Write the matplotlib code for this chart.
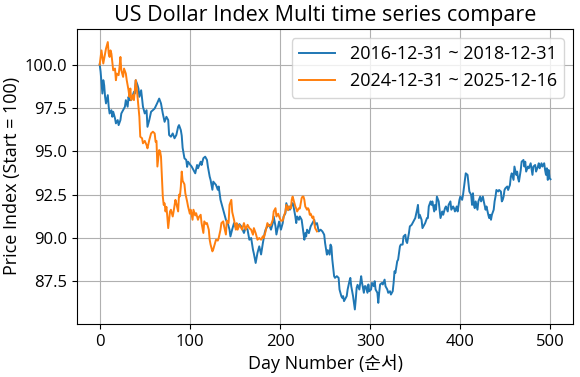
import matplotlib
matplotlib.use("Agg")
import matplotlib.pyplot as plt

plt.rcParams['font.family'] = ['Open Sans', 'Noto Sans CJK KR', 'DejaVu Sans']

# series 1 : 2016-12-31 ~ 2018-12-31 (day number, index value)
blue_day = [0, 1, 3, 4, 5, 6, 7, 9, 10, 11, 13, 14, 15, 17, 18, 20, 21, 23, 24, 26,
            28, 29, 31, 32, 33, 35, 38, 39, 40, 42, 43, 44, 46, 48, 50, 52, 53, 55, 57, 59,
            61, 64, 66, 68, 70, 72, 74, 76, 77, 79, 81, 83, 85, 87, 88, 90, 91, 92, 94, 96,
            97, 98, 100, 102, 104, 106, 108, 109, 112, 113, 115, 117, 119, 120, 122, 123, 125, 126, 129, 131,
            132, 134, 136, 138, 140, 142, 144, 145, 147, 149, 151, 153, 155, 157, 160, 162, 164, 166, 168, 170,
            171, 173, 175, 177, 179, 181, 183, 184, 186, 188, 190, 192, 193, 195, 196, 199, 201, 203, 204, 206,
            207, 209, 210, 211, 213, 214, 215, 216, 217, 218, 219, 221, 222, 224, 225, 227, 228, 229, 230, 232,
            234, 236, 238, 239, 241, 243, 245, 247, 249, 250, 252, 253, 255, 256, 257, 258, 260, 261, 263, 265,
            266, 268, 269, 270, 271, 273, 274, 275, 277, 278, 279, 281, 283, 284, 285, 286, 288, 289, 290, 291,
            293, 294, 295, 297, 298, 299, 301, 302, 304, 305, 306, 308, 309, 310, 311, 313, 314, 316, 317, 319,
            320, 322, 323, 325, 326, 327, 328, 330, 331, 333, 334, 336, 337, 339, 340, 341, 343, 344, 346, 347,
            349, 350, 352, 353, 354, 355, 357, 358, 360, 361, 363, 364, 365, 367, 368, 369, 371, 372, 373, 374,
            376, 377, 378, 380, 381, 383, 384, 386, 387, 389, 390, 392, 393, 394, 396, 397, 399, 400, 402, 403,
            405, 406, 408, 409, 410, 412, 413, 414, 415, 416, 417, 419, 420, 422, 423, 425, 426, 428, 429, 431,
            432, 433, 434, 435, 437, 438, 439, 440, 442, 443, 445, 446, 447, 448, 449, 450, 452, 453, 455, 456,
            457, 459, 460, 462, 463, 464, 465, 467, 468, 470, 471, 472, 473, 475, 476, 478, 480, 481, 483, 484,
            486, 487, 488, 490, 491, 493, 494, 495, 496, 497, 498, 499, 500]
blue_val = [100.0, 99.6, 98.33, 99.1, 98.81, 98.14, 97.76, 98.24, 97.57, 97.18, 97.37, 96.99, 97.28, 96.9, 96.61, 96.8, 96.51, 96.8, 97.18, 97.37,
            97.57, 97.95, 97.57, 98.14, 97.95, 97.95, 98.43, 98.33, 99.1, 98.81, 98.62, 98.14, 98.52, 97.57, 97.18, 97.37, 96.41, 96.8, 97.28, 97.37,
            97.47, 97.8, 98.04, 97.76, 97.18, 96.7, 96.99, 96.8, 95.94, 95.84, 96.03, 95.75, 95.94, 96.41, 96.51, 96.22, 95.9, 95.2, 94.6, 94.5,
            94.1, 94.4, 94.25, 94.12, 93.93, 93.73, 94.21, 94.02, 94.4, 94.21, 94.6, 94.69, 94.5, 94.12, 93.54, 93.35, 92.78, 93.25, 93.06, 92.78,
            92.97, 92.2, 91.82, 91.43, 91.05, 90.86, 90.48, 90.09, 90.5, 90.86, 90.6, 90.57, 90.8, 90.67, 90.29, 90.6, 90.48, 89.9, 90.0, 89.33,
            89.1, 88.56, 89.14, 89.52, 89.05, 89.71, 90.29, 90.48, 90.67, 90.76, 90.48, 90.86, 91.24, 90.67, 90.2, 90.95, 90.48, 90.86, 91.24, 91.43,
            92.01, 91.63, 91.82, 91.63, 91.91, 92.01, 91.82, 91.53, 91.24, 90.86, 91.24, 91.05, 91.24, 91.05, 90.67, 89.9, 90.28, 90.09, 90.48, 90.28,
            90.67, 90.86, 91.05, 90.76, 90.86, 90.38, 90.48, 90.38, 90.19, 89.71, 89.04, 89.3, 89.04, 89.62, 89.5, 88.75, 87.8, 87.7, 87.8, 87.7,
            87.03, 86.65, 86.55, 86.65, 86.36, 86.55, 86.65, 87.03, 87.51, 87.7, 87.22, 86.65, 85.88, 86.45, 87.13, 87.3, 87.03, 87.41, 87.8, 87.41,
            86.84, 87.22, 87.22, 86.84, 87.32, 86.93, 87.03, 87.41, 87.22, 87.51, 87.03, 86.84, 86.26, 86.84, 87.32, 87.41, 87.32, 87.6, 87.22, 87.03,
            86.84, 86.93, 86.74, 86.93, 87.41, 88.08, 87.99, 88.66, 88.75, 89.52, 89.62, 89.62, 90.09, 90.19, 89.81, 89.71, 90.29, 90.67, 90.76, 90.86,
            91.05, 91.15, 91.63, 91.91, 91.15, 91.34, 91.05, 90.57, 90.76, 90.86, 91.15, 91.15, 91.82, 92.11, 91.91, 92.11, 91.53, 91.91, 91.63, 92.39,
            92.11, 91.63, 91.15, 91.53, 91.34, 91.72, 91.82, 91.53, 91.91, 92.11, 91.63, 91.82, 91.72, 91.53, 91.82, 91.53, 92.2, 92.39, 92.2, 92.49,
            93.35, 93.73, 93.64, 93.16, 92.68, 92.49, 91.91, 92.58, 91.91, 91.72, 92.11, 91.63, 92.11, 92.39, 92.11, 92.39, 92.11, 91.63, 91.82, 91.34,
            91.15, 91.34, 91.05, 91.34, 91.63, 92.11, 92.39, 92.77, 92.68, 92.77, 92.68, 92.11, 92.2, 92.39, 92.77, 92.87, 92.97, 92.77, 93.06, 93.54,
            93.73, 93.35, 94.12, 93.64, 93.83, 93.45, 93.25, 93.92, 94.4, 94.5, 94.12, 94.4, 93.83, 94.12, 94.02, 94.31, 93.64, 94.12, 94.21, 93.83,
            94.12, 94.31, 94.02, 94.31, 94.12, 94.31, 93.92, 93.64, 94.02, 93.35, 93.92, 93.45, 93.39]

# series 2 : 2024-12-31 ~ 2025-12-16
orange_day = [0, 2, 3, 4, 6, 7, 9, 10, 11, 12, 13, 15, 17, 18, 19, 21, 22, 23, 24, 26,
              27, 29, 30, 32, 33, 34, 35, 37, 38, 40, 41, 43, 44, 45, 47, 48, 50, 52, 53, 55,
              57, 59, 61, 62, 63, 64, 66, 67, 68, 69, 70, 71, 72, 73, 74, 75, 76, 78, 79, 81,
              82, 84, 85, 87, 88, 89, 90, 91, 92, 94, 95, 97, 98, 100, 101, 103, 104, 106, 107, 109,
              110, 112, 113, 115, 116, 118, 119, 121, 122, 123, 125, 126, 128, 129, 131, 132, 134, 135, 137, 138,
              140, 141, 143, 144, 146, 147, 149, 151, 152, 153, 155, 157, 158, 160, 162, 164, 166, 168, 170, 171,
              173, 175, 177, 179, 181, 182, 184, 186, 188, 190, 192, 193, 195, 196, 198, 199, 201, 203, 204, 206,
              207, 209, 210, 212, 213, 214, 215, 217, 218, 219, 221, 222, 224, 225, 226, 227, 228, 230, 231, 232,
              233, 234, 236, 237, 238, 239, 240, 241]
orange_val = [100.0, 100.82, 100.44, 100.06, 100.63, 100.92, 101.3, 100.63, 100.44, 100.82, 100.63, 99.67, 99.77, 99.1, 99.48, 99.39, 99.86, 100.44, 99.67, 99.29,
              99.77, 99.48, 99.1, 98.52, 98.14, 98.62, 97.95, 98.24, 97.95, 99.1, 98.71, 97.57, 96.99, 95.84, 95.75, 95.46, 95.6, 95.36, 95.17, 95.65,
              96.03, 96.13, 96.03, 95.55, 95.6, 94.12, 95.07, 95.0, 94.69, 93.54, 92.39, 91.91, 92.0, 91.53, 91.8, 91.24, 90.57, 91.53, 91.63, 91.24,
              91.53, 92.2, 92.0, 91.53, 92.5, 92.4, 92.97, 93.83, 93.3, 93.1, 92.58, 92.1, 91.82, 91.4, 91.63, 91.05, 91.63, 91.3, 91.43, 91.05,
              91.2, 91.34, 90.86, 90.29, 90.96, 90.8, 90.86, 90.48, 89.9, 89.62, 89.23, 89.35, 89.71, 89.9, 89.85, 90.0, 90.48, 90.86, 90.96, 90.67,
              90.2, 91.0, 90.86, 91.91, 92.2, 91.5, 91.05, 90.48, 90.86, 90.48, 90.76, 90.57, 90.48, 90.86, 90.48, 90.76, 90.57, 90.48, 90.19, 90.57,
              90.28, 89.9, 90.0, 89.9, 90.1, 90.0, 90.38, 90.86, 90.67, 90.76, 91.05, 91.53, 91.72, 91.24, 91.4, 91.24, 91.0, 91.0, 91.2, 91.53,
              91.91, 91.6, 91.82, 91.7, 92.2, 92.39, 92.2, 91.82, 91.7, 91.53, 91.72, 91.7, 92.3, 92.39, 92.39, 92.2, 91.82, 91.63, 91.72, 91.63,
              91.34, 91.4, 91.15, 91.24, 90.86, 90.57, 90.48, 90.38]

labels = ['2016-12-31 ~ 2018-12-31', '2024-12-31 ~ 2025-12-16']

fig, ax = plt.subplots(figsize=(5.8, 3.77), dpi=100)
fig.subplots_adjust(left=0.133, right=0.988, bottom=0.141, top=0.923)

ax.plot(blue_day, blue_val, color='tab:blue', linewidth=1.4, label=labels[0])
ax.plot(orange_day, orange_val, color='tab:orange', linewidth=1.4, label=labels[1])

ax.set_xlim(-25, 525)
ax.set_ylim(85.05, 102.05)
ax.set_yticks([87.5, 90.0, 92.5, 95.0, 97.5, 100.0])
ax.grid(True)
ax.tick_params(labelsize=12)
ax.set_title('US Dollar Index Multi time series compare', fontsize=15.5)
ax.set_xlabel('Day Number (순서)', fontsize=13, labelpad=3)
ax.set_ylabel('Price Index (Start = 100)', fontsize=13, labelpad=3)
ax.legend(loc='upper right', fontsize=13)

fig.savefig('out.png', dpi=100)
